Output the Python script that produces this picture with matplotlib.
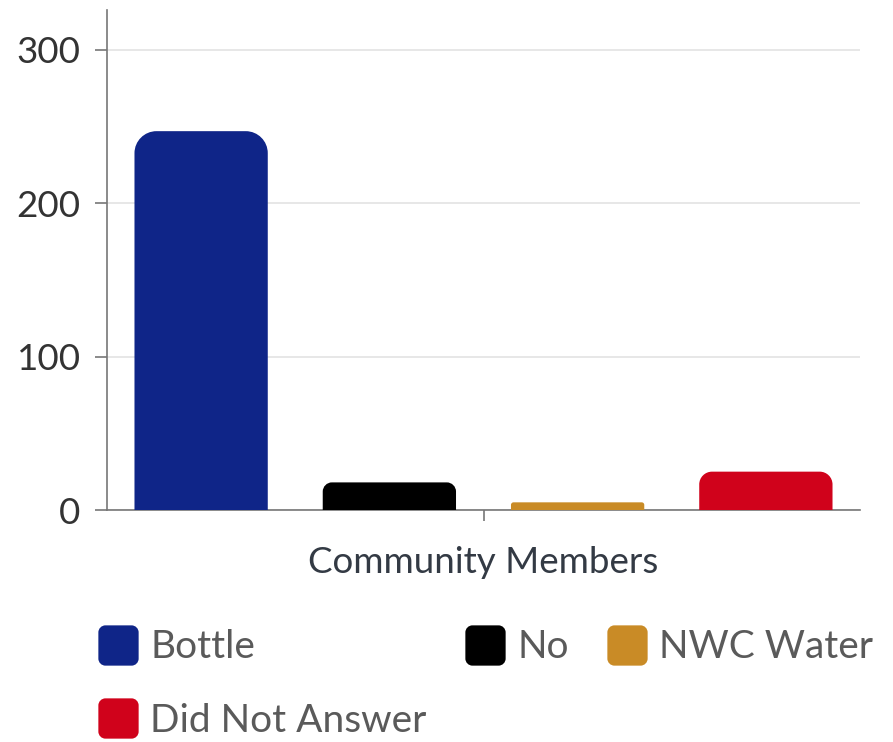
import numpy as np
import matplotlib
matplotlib.use('Agg')
import matplotlib.pyplot as plt
from matplotlib.path import Path
from matplotlib.patches import PathPatch
from matplotlib.lines import Line2D

plt.rcParams['font.family'] = ['Lato', 'DejaVu Sans']

category = 'Community Members'
series = ['Bottle', 'No', 'NWC Water', 'Did Not Answer']
values = [247, 18, 5, 25]
colors = ['#0f2588', '#000000', '#c98b26', '#d0021b']
yticks = [0, 100, 200, 300]

W, H, DPI = 893, 742, 100
fig = plt.figure(figsize=(W / DPI, H / DPI), dpi=DPI)
ax = fig.add_axes([107 / W, 1 - 510 / H, 753 / W, 500 / H])

ax.set_xlim(-0.5, 0.5)
ax.set_ylim(0, 326)

bar_w = 0.177
offsets = [(i - 1.5) * 0.25 for i in range(len(series))]
bars = ax.bar(offsets, values, width=bar_w, color=colors)

# rounded tops: radius in pixels converted to data units on each axis
px_x = 753 / 1.0
px_y = 500 / 326


def rounded_top(x0, w, h, r_px):
    rx = r_px / px_x
    ry = r_px / px_y
    k = 0.5523
    verts = [
        (x0, 0), (x0, h - ry),
        (x0, h - ry + k * ry), (x0 + rx - k * rx, h), (x0 + rx, h),
        (x0 + w - rx, h),
        (x0 + w - rx + k * rx, h), (x0 + w, h - ry + k * ry), (x0 + w, h - ry),
        (x0 + w, 0), (x0, 0),
    ]
    codes = [Path.MOVETO, Path.LINETO,
             Path.CURVE4, Path.CURVE4, Path.CURVE4,
             Path.LINETO,
             Path.CURVE4, Path.CURVE4, Path.CURVE4,
             Path.LINETO, Path.CLOSEPOLY]
    return Path(verts, codes)


for b, c in zip(bars, colors):
    h = b.get_height()
    r = min(22, h * px_y / 3)
    ax.add_patch(PathPatch(rounded_top(b.get_x(), b.get_width(), h, r),
                           facecolor=c, edgecolor='none', zorder=3))
    b.set_visible(False)

ax.set_yticks(yticks)
ax.set_xticks([0])
ax.set_xticklabels([category])
ax.grid(axis='y', color='#e3e3e3', linewidth=1.2, zorder=0)
ax.set_axisbelow(True)

for s in ['top', 'right']:
    ax.spines[s].set_visible(False)
ax.spines['left'].set_color('#777777')
ax.spines['bottom'].set_color('#777777')
ax.spines['left'].set_linewidth(1.2)
ax.spines['bottom'].set_linewidth(1.2)
ax.spines['left'].set_bounds(0, 326)

ax.tick_params(axis='y', length=9, width=1.2, color='#777777', pad=10,
               labelsize=26.5, labelcolor='#333333')
ax.tick_params(axis='x', length=8, width=1.2, color='#777777', pad=18,
               labelsize=26.5, labelcolor='#333a44')

# rounded square legend markers
k = 0.5523
rr = 0.35
sq_verts = [(-1 + rr, -1), (1 - rr, -1),
            (1 - rr + k * rr, -1), (1, -1 + rr - k * rr), (1, -1 + rr),
            (1, 1 - rr),
            (1, 1 - rr + k * rr), (1 - rr + k * rr, 1), (1 - rr, 1),
            (-1 + rr, 1),
            (-1 + rr - k * rr, 1), (-1, 1 - rr + k * rr), (-1, 1 - rr),
            (-1, -1 + rr),
            (-1, -1 + rr - k * rr), (-1 + rr - k * rr, -1), (-1 + rr, -1)]
sq_codes = [Path.MOVETO, Path.LINETO,
            Path.CURVE4, Path.CURVE4, Path.CURVE4, Path.LINETO,
            Path.CURVE4, Path.CURVE4, Path.CURVE4, Path.LINETO,
            Path.CURVE4, Path.CURVE4, Path.CURVE4, Path.LINETO,
            Path.CURVE4, Path.CURVE4, Path.CURVE4]
sq = Path(sq_verts, sq_codes)

handles = {name: Line2D([], [], linestyle='none', marker=sq, markersize=29,
                        markerfacecolor=c, markeredgecolor='none')
           for name, c in zip(series, colors)}
order = ['Bottle', 'Did Not Answer', 'No', 'NWC Water']
leg = fig.legend([handles[n] for n in order], order, ncol=3,
                 loc='upper left', bbox_to_anchor=(82 / W, 1 - 610 / H),
                 frameon=False, fontsize=28, handlelength=0.85,
                 handletextpad=0.4, columnspacing=1.08, labelspacing=0.96,
                 borderpad=0)
for t in leg.get_texts():
    t.set_color('#5a5a5a')

fig.savefig('out.png', dpi=DPI)
